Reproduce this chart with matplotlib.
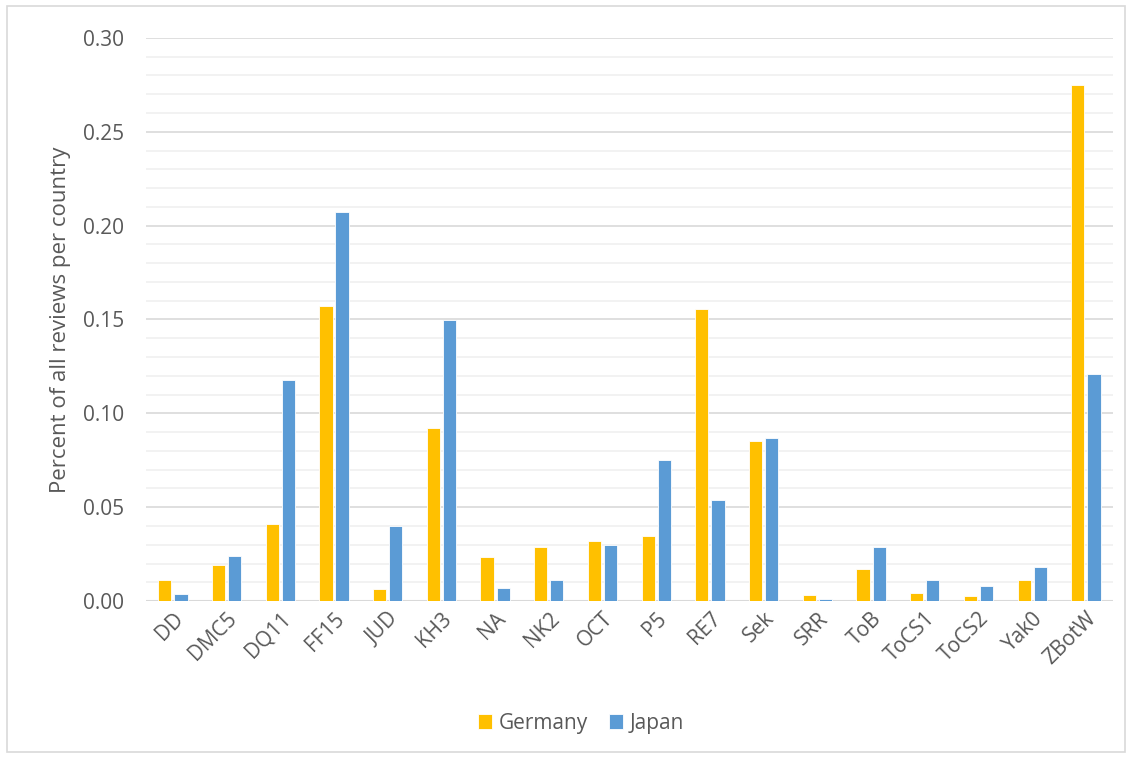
import matplotlib
matplotlib.use("Agg")
import matplotlib.pyplot as plt
import numpy as np
from matplotlib.patches import Rectangle

games = ["DD", "DMC5", "DQ11", "FF15", "JUD", "KH3", "NA", "NK2", "OCT", "P5",
         "RE7", "Sek", "SRR", "ToB", "ToCS1", "ToCS2", "Yak0", "ZBotW"]
germany = [0.011, 0.019, 0.041, 0.157, 0.0065, 0.092, 0.0235, 0.029, 0.032, 0.0345,
           0.1555, 0.0855, 0.003, 0.017, 0.0045, 0.0025, 0.011, 0.275]
japan = [0.004, 0.024, 0.118, 0.207, 0.040, 0.1495, 0.007, 0.011, 0.030, 0.075,
         0.054, 0.087, 0.001, 0.029, 0.011, 0.008, 0.018, 0.121]

plt.rcParams["font.family"] = ["Open Sans", "DejaVu Sans"]
txt = "#595959"

fig = plt.figure(figsize=(11.32, 7.58), dpi=100)
ax = fig.add_axes([0.129, 0.207, 0.854, 0.743])

x = np.arange(len(games))
w = 0.245
ax.bar(x - 0.15, germany, w, color="#FFC000", edgecolor="white", linewidth=0.6,
       label="Germany", zorder=3)
ax.bar(x + 0.15, japan, w, color="#5B9BD5", edgecolor="white", linewidth=0.6,
       label="Japan", zorder=3)

ax.set_xlim(-0.5, len(games) - 0.5)
ax.set_ylim(0, 0.30)
ax.set_yticks(np.arange(0, 0.301, 0.05))
ax.set_yticks(np.arange(0, 0.301, 0.01), minor=True)
ax.yaxis.set_major_formatter(matplotlib.ticker.FormatStrFormatter("%.2f"))
ax.grid(axis="y", which="major", color="#D9D9D9", linewidth=1.2, zorder=0)
ax.grid(axis="y", which="minor", color="#F0F0F0", linewidth=1.2, zorder=0)
ax.tick_params(axis="y", which="both", length=0, labelsize=15, labelcolor=txt, pad=16)
ax.tick_params(axis="x", length=0, labelsize=15, labelcolor=txt, pad=5)
ax.set_xticks(x)
ax.set_xticklabels(games, rotation=45, ha="right", rotation_mode="anchor")
for s in ax.spines.values():
    s.set_visible(False)
ax.axhline(0, color="#D9D9D9", linewidth=1.5, zorder=2)
ax.set_ylabel("Percent of all reviews per country", fontsize=16, color=txt, labelpad=8)

fig.legend(loc="center", bbox_to_anchor=(0.513, 0.046), ncol=2, frameon=False,
           fontsize=15, labelcolor=txt, handlelength=0.7, handleheight=0.7,
           handletextpad=0.3, columnspacing=1.0)

fig.patches.append(Rectangle((0.006, 0.008), 0.988, 0.984, transform=fig.transFigure,
                             fill=False, edgecolor="#D9D9D9", linewidth=1.2))

fig.savefig("out.png", dpi=100)
